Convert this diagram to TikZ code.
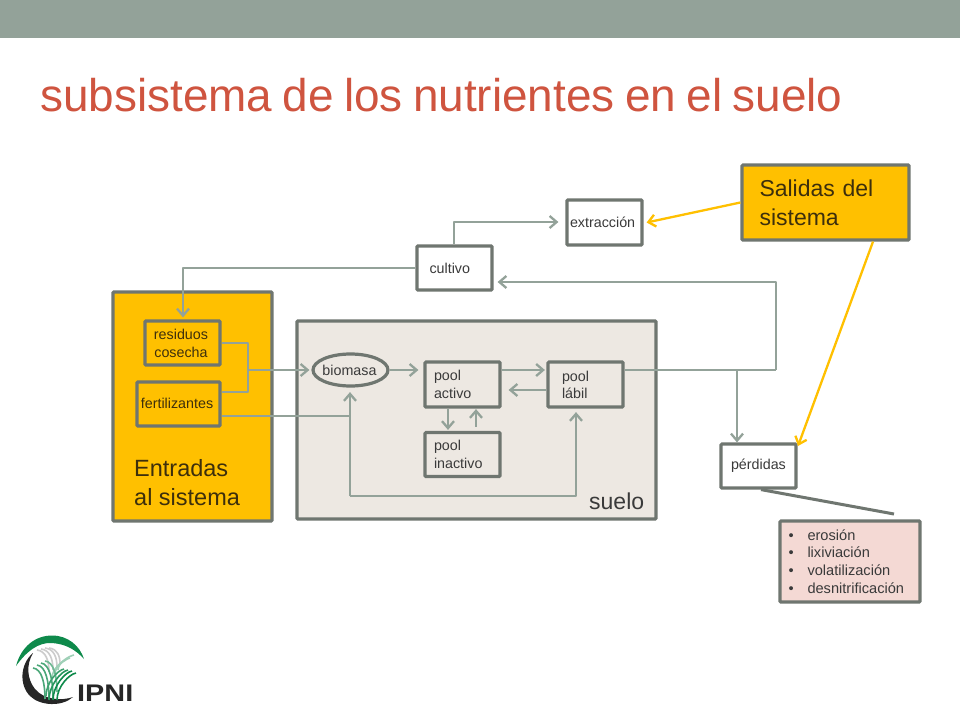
\documentclass[tikz,border=0pt]{standalone}
\usepackage{fontspec}
\setmainfont{Liberation Sans}
\usetikzlibrary{arrows.meta,shapes.geometric}
\definecolor{band}{HTML}{93A299}
\definecolor{titlec}{HTML}{CF543F}
\definecolor{edge}{HTML}{6F7670}
\definecolor{flow}{HTML}{93A299}
\definecolor{amber}{HTML}{FFC000}
\definecolor{sand}{HTML}{EDE8E2}
\definecolor{rose}{HTML}{F4D9D4}
\definecolor{ink}{HTML}{3A3A3A}
\definecolor{inkb}{HTML}{3D2F0C}
\definecolor{leaf}{HTML}{0E8A4B}
\tikzset{
 x=1pt,y=-1pt,
 frame/.style={draw=edge,line width=3.2pt,rounded corners=1pt,inner xsep=0pt,inner ysep=0pt,align=left,text=ink},
 small/.style={font=\fontsize{14.3}{18}\selectfont},
 big/.style={font=\fontsize{23.5}{29}\selectfont},
 tbox/.style n args={3}{frame,minimum width=#1,minimum height=#2,text width=#1-2*#3},
 flowline/.style={draw=flow,line width=2.3pt,line join=round},
 flowarrow/.style={flowline,-{Straight Barb[length=7pt,width=12pt,line width=2.3pt]}},
 outarrow/.style={draw=amber,line width=2.3pt,-{Straight Barb[length=7pt,width=12pt,line width=2.3pt]}},
}
\begin{document}
\begin{tikzpicture}
\useasboundingbox (0,0) rectangle (960,720);
\fill[white] (0,0) rectangle (960,720);
\fill[band] (0,0) rectangle (960,38);
\node[anchor=base west,inner sep=0pt,text=titlec,font=\fontsize{45.9}{50}\selectfont] (title) at (40,111) {\spaceskip=10.4pt\relax subsistema de los nutrientes en el suelo};

% containers
\node[frame,fill=amber,minimum width=159,minimum height=229] (entradas) at (192.5,406.5) {};
\node[frame,fill=sand,minimum width=359,minimum height=198] (suelo) at (476.5,420) {};
\node[anchor=west,inner sep=0pt,align=left,text=inkb,big] (entlabel) at (134,482.5) {Entradas\\al sistema};
\node[anchor=base west,inner sep=0pt,text=ink,font=\fontsize{23}{29}\selectfont] (suelolabel) at (589,509) {suelo};

% boxes
\node[frame,fill=amber,small,align=center,text=inkb,minimum width=75,minimum height=44,text width=75] (res) at (182.5,343) {\hspace*{-3pt}residuos\\\hspace*{-3pt}cosecha};
\node[frame,fill=amber,small,align=center,text=inkb,minimum width=83,minimum height=44,text width=83] (fert) at (178.5,404) {\raisebox{2pt}{\hspace*{-3pt}fertilizantes}};
\node[ellipse,draw=edge,line width=3.2pt,fill=sand,inner sep=0pt,minimum width=75,minimum height=32,small,text=ink] (bio) at (350.5,370) {\hspace*{-2pt}biomasa};
\node[tbox={75}{45}{9},fill=sand,small] (activo) at (462.5,384.5) {pool\\activo};
\node[tbox={75}{45}{14},fill=sand,small] (labil) at (585.5,384.5) {\raisebox{-1pt}{pool}\\lábil};
\node[tbox={75}{44}{9},fill=sand,small] (inactivo) at (462.5,454.5) {pool\\inactivo};
\node[tbox={75}{45}{3},fill=white,small] (extr) at (604.5,222.5) {extracción};
\node[tbox={75}{44}{12.5},fill=white,small] (cult) at (454.5,268) {cultivo};
\node[tbox={75}{44}{10},fill=white,small] (perd) at (758.5,466) {pérdidas};
\node[tbox={167}{75}{17.5},fill=amber,text=inkb,font=\fontsize{23}{29}\selectfont] (sal) at (825.5,202.5) {Salidas del\\sistema};
\node[tbox={140}{81}{8.5},fill=rose,font=\fontsize{14.6}{17.7}\selectfont] (list) at (850,561.5) {\makebox[19pt][l]{•}erosión\\\makebox[19pt][l]{•}lixiviación\\\makebox[19pt][l]{•}volatilización\\\makebox[19pt][l]{•}desnitrificación};

% junctions
\coordinate (j1) at (248,370);
\coordinate (j2) at (350,416);
\coordinate (j3) at (350,496);
\coordinate (j4) at (576,496);
\coordinate (j5) at (776,370);
\coordinate (j6) at (776,282);
\coordinate (j7) at (737,370);
\coordinate (gapcult) at (454,222);
\coordinate (gapres) at (183,268);
\coordinate (tail) at (894,514);
\coordinate (perdtip) at (798,446);

% connectors
\draw[flowarrow] (cult.north -| gapcult) -- (gapcult) -- ([xshift=-7pt]extr.west |- gapcult);
\draw[flowarrow] (cult.west) -- (gapres) -- ([yshift=2pt]res.north -| gapres);
\draw[flowline] (res.east) -- (j1 |- res.east) -- (j1 |- 0,392) -- (fert.east |- 0,392);
\draw[flowarrow] (j1) -- ([xshift=-2pt]bio.west);
\draw[flowline] (fert.east |- j2) -- (j2);
\draw[flowarrow] (j3) -- ([yshift=-4.5pt]bio.south -| j3);
\draw[flowarrow] (j3) -- (j4) -- ([yshift=-3.5pt]labil.south -| j4);
\draw[flowarrow] (bio.east) -- ([xshift=-5pt]activo.west |- bio.east);
\draw[flowarrow] (activo.east |- 0,370) -- ([xshift=-1.5pt]labil.west |- 0,370);
\draw[flowarrow] (labil.west |- 0,390) -- ([xshift=7pt]activo.east |- 0,390);
\draw[flowarrow] (activo.south -| 448,0) -- ([yshift=1pt]inactivo.north -| 448,0);
\draw[flowarrow] (inactivo.north -| 476,0) ++(0,-4) -- ([yshift=-0.5pt]activo.south -| 476,0);
\draw[flowline] (labil.east |- 0,370) -- (j5);
\draw[flowarrow] (j5) -- (j6) -- ([xshift=4pt]cult.east |- j6);
\draw[flowarrow] (j7) -- (perd.north -| j7);
\draw[outarrow] (sal.west) -- ([xshift=3pt]extr.east);
\draw[outarrow] (sal.south -| 873,0) -- (perdtip);
\draw[draw=edge,line width=3pt] (perd.south -| 761,0) -- (tail);

% logo
\fill[leaf] (16,666) .. controls (21,647) and (35,635.5) .. (52,635.5) .. controls (68,635.5) and (80,646) .. (84,659) .. controls (76,650) and (66,644) .. (52,643) .. controls (38,642) and (26,652) .. (16,666) -- cycle;
\fill[black!85] (33,653) .. controls (20,664) and (19,685) .. (30,696) .. controls (40,706) and (62,707) .. (73,697) .. controls (62,701) and (44,700) .. (35,689) .. controls (27,679) and (26,665) .. (33,653) -- cycle;
\foreach \sx/\sy/\ex/\ey/\cc in {37/650/49/672/black!20,41/649/53/670/black!20,45/648/57/667/black!20,49/648/60/664/black!20,
  66/660/52/678/leaf!40,70/658/55/674/leaf!40,74/655/58/670/leaf!40,
  33/668/45/699/leaf!75,37/665/49/699/leaf!75,41/663/53/699/leaf!75,45/661/57/692/leaf!60,
  76/673/57/700/leaf,72/671/53/700/leaf,68/670/49/700/leaf!90,64/669/46/696/leaf!80}
  \draw[\cc,line width=1.6pt] (\sx,\sy) .. controls ({(\sx+\ex)/2+3},{\sy+1}) and ({\ex},{(\sy+\ey)/2}) .. (\ex,\ey);
\node[anchor=base west,inner sep=0pt,text=black!85,xscale=1.2,transform shape,font=\fontsize{24}{24}\selectfont\bfseries] (ipni) at (77,701) {IPNI};
\end{tikzpicture}
\end{document}
